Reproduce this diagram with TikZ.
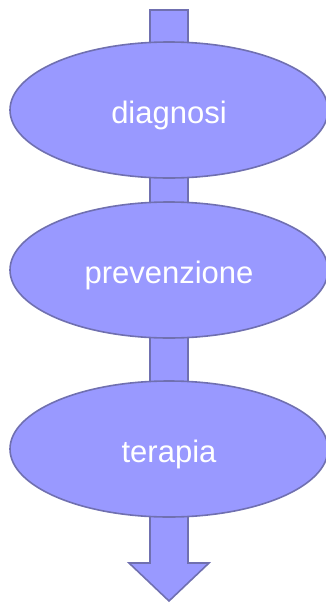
\documentclass[tikz,border=0pt]{standalone}
\usepackage{fontspec}
\setmainfont{Liberation Sans}
\usetikzlibrary{shapes.geometric}
\definecolor{stepfill}{RGB}{153,153,255}
\definecolor{stepline}{RGB}{112,112,176}
\tikzset{
  phase/.style={ellipse, draw=stepline, fill=stepfill, line width=1.6pt,
    minimum width=318pt, minimum height=136pt, inner sep=0pt,
    text height=26pt, text depth=0pt,
    text=white, font={\fontsize{31pt}{36}\selectfont}},
  flow/.style={draw=stepline, fill=stepfill, line width=1.6pt, line join=miter}}

\begin{document}
\begin{tikzpicture}[x=1pt,y=-1pt]
\useasboundingbox (0,0) rectangle (325,603);
% the big arrow behind the phases
\coordinate (top) at (169,10);
\coordinate (tip) at (169,601);
\draw [flow] (150,10) -- (188,10) -- (188,563) -- (209,563) -- (tip)
  -- (129,563) -- (150,563) -- cycle;
% phases
\node [phase] (diag) at (169,110) {diagnosi};
\node [phase] (prev) at (169,270) {prevenzione};
\node [phase] (ter) at (169,449) {terapia};
\end{tikzpicture}
\end{document}
